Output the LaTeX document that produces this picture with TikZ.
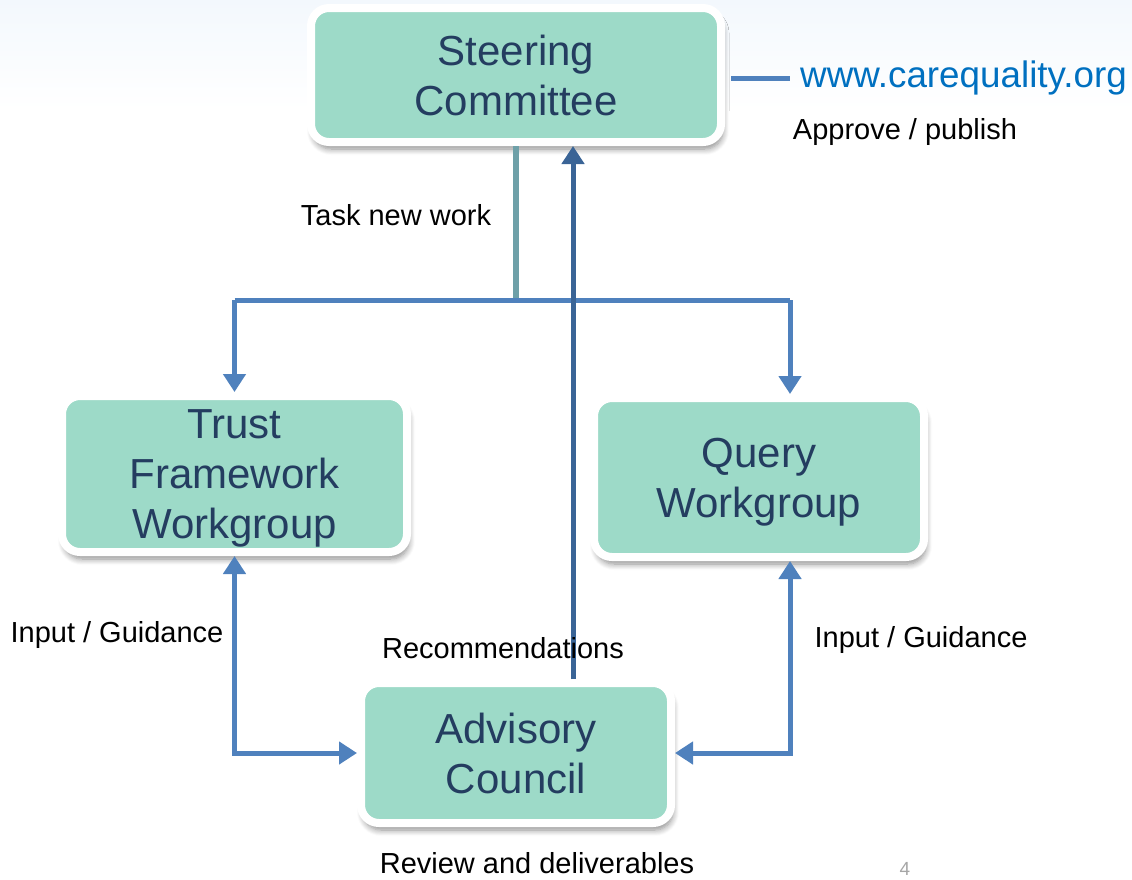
\documentclass[tikz,border=0pt]{standalone}
\usepackage{fontspec}
\setmainfont{Liberation Sans}
\usetikzlibrary{arrows.meta,shadows.blur}

\definecolor{boxfill}{RGB}{157,218,200}
\definecolor{boxtext}{RGB}{36,61,96}
\definecolor{linkblue}{RGB}{79,129,189}
\definecolor{taskline}{RGB}{110,160,168}
\definecolor{recline}{RGB}{58,100,150}
\definecolor{urlblue}{RGB}{0,112,192}
\definecolor{topband}{RGB}{243,248,253}

\begin{document}
\begin{tikzpicture}[
	x=1pt, y=-1pt,
	% Define the styles for the boxes and the connectors
	groupbox/.style={rectangle, rounded corners=18pt, draw=white, line width=8pt,
		fill=boxfill, text=boxtext, align=center, text depth=0pt,
		font=\fontsize{42}{50}\selectfont,
		blur shadow={shadow xshift=2pt, shadow yshift=-7pt, shadow opacity=45,
			shadow blur radius=6pt, shadow blur steps=8}},
	lbl/.style={font=\fontsize{29}{34}\selectfont, inner sep=0pt},
	conn/.style={draw=linkblue, line width=5pt},
	head/.style={-{Triangle[width=22pt,length=18pt]}},
	heads/.style={{Triangle[width=22pt,length=18pt]}-{Triangle[width=22pt,length=18pt]}}
	]
	
	% --- BACKGROUND ---
	\useasboundingbox (0,0) rectangle (1132,879);
	\shade[top color=topband, bottom color=white] (0,0) rectangle (1132,110);
	
	% --- BOXES ---
	% Format: \node (name) at (x,y) [groupbox, minimum width=.., minimum height=..] {text};
	
	\node (steer) at (516,75) [groupbox, minimum width=410, minimum height=134] {Steering\\Committee};
	\node (trust) at (234.5,474) [groupbox, minimum width=345, minimum height=156] {Trust\\Framework\\Workgroup};
	\node (query) at (759,477.5) [groupbox, minimum width=330, minimum height=159] {Query\\Workgroup};
	\node (advisory) at (516,753) [groupbox, minimum width=310, minimum height=140] {Advisory\\Council};
	
	\node (url) at (800,78) [anchor=west, inner sep=0pt, text=urlblue, font=\fontsize{36.8}{40}\selectfont] {www.carequality.org};
	
	% --- BRANCH POINTS ---
	\coordinate (split) at (516,300);
	\coordinate (left) at (234.5,300);
	\coordinate (right) at (790,300);
	\coordinate (rec) at (573,300);
	
	% --- CONNECTORS ---
	\draw[draw=taskline, line width=6pt] (steer.south) -- (split);
	\draw[conn] (left) -- (right);
	\draw[conn, head] (left) -- (trust.north);
	\draw[conn, head] (right) -- (right |- query.north);
	\draw[draw=recline, line width=5pt, head] (advisory.north -| rec) -- (steer.south -| rec);
	\draw[conn, shorten <=6pt, shorten >=10pt] (steer.east |- url.west) -- (url.west);
	\draw[conn, heads] (trust.south) |- (advisory.west);
	\draw[conn, heads] (right |- query.south) |- (advisory.east);
	
	% --- LABELS ---
	\node (task) at (396,215) [lbl] {Task new work};
	\node (approve) at (905,132) [lbl] {Approve / publish};
	\node (inleft) at (117,635) [lbl] {Input / Guidance};
	\node (recommend) at (503,648) [lbl] {Recommendations};
	\node (inright) at (921,640) [lbl] {Input / Guidance};
	\node (review) at (537,863) [lbl] {Review and deliverables};
	\node (page) at (905,869) [inner sep=0pt, text=gray!70, font=\fontsize{19}{22}\selectfont] {4};
	
\end{tikzpicture}
\end{document}
